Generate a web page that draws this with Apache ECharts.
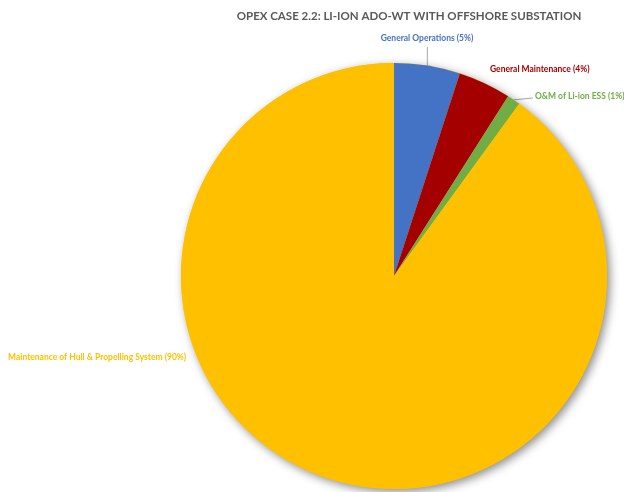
<!DOCTYPE html>
<html>
<head>
<meta charset="utf-8">
<script src="https://cdn.jsdelivr.net/npm/echarts@6/dist/echarts.min.js"></script>
<style>
  html, body { margin: 0; padding: 0; background: #ffffff; }
  #chart { width: 624px; height: 492px; }
</style>
</head>
<body>
<div id="chart"></div>
<script>
// OPEX breakdown, share of total (%)
const categories = [
  'General Operations',
  'General Maintenance',
  'O&M of Li-ion ESS',
  'Maintenance of Hull & Propelling System'
];
const shares = [5, 4, 1, 90];
const sliceColors = ['#4472C4', '#A50000', '#70AD47', '#FFC000'];
const titleText = 'OPEX CASE 2.2: LI-ION ADO-WT WITH OFFSHORE SUBSTATION';

// Where each label sits (anchor x, y, horizontal alignment) and whether a leader line is drawn
const labelSpots = [
  { x: 427, y: 38, align: 'center', line: 'up' },
  { x: 490, y: 69, align: 'left', line: null },
  { x: 535, y: 96, align: 'left', line: 'side' },
  { x: 8, y: 357, align: 'left', line: null }
];

const pieCenter = [394, 276];
const pieRadius = 213;
const chartFont = 'Lato, "Open Sans", sans-serif';

const chart = echarts.init(document.getElementById('chart'), null, { renderer: 'canvas' });

const data = categories.map((name, i) => ({
  name: name,
  value: shares[i],
  itemStyle: { color: sliceColors[i] },
  label: { color: sliceColors[i] },
  labelLine: { show: labelSpots[i].line !== null }
}));

chart.setOption({
  animation: false,
  backgroundColor: '#ffffff',
  title: {
    text: titleText,
    left: 404,
    top: 5,
    textAlign: 'center',
    textStyle: {
      fontFamily: chartFont,
      fontSize: 11.5,
      fontWeight: 'bold',
      color: '#595959'
    }
  },
  series: [
    {
      // soft drop shadow underneath the whole pie
      type: 'pie',
      silent: true,
      center: pieCenter,
      radius: pieRadius,
      label: { show: false },
      labelLine: { show: false },
      itemStyle: {
        color: '#FFC000',
        shadowBlur: 10,
        shadowOffsetX: 3,
        shadowOffsetY: 3,
        shadowColor: 'rgba(0,0,0,0.45)'
      },
      data: [{ name: '', value: 1 }]
    },
    {
      type: 'pie',
      center: pieCenter,
      radius: pieRadius,
      startAngle: 90,
      clockwise: true,
      percentPrecision: 0,
      avoidLabelOverlap: false,
      emphasis: { disabled: true },
      itemStyle: { borderWidth: 0 },
      label: {
        show: true,
        position: 'outside',
        formatter: '{b} ({d}%)',
        fontFamily: chartFont,
        fontSize: 8.5,
        fontWeight: 'bold'
      },
      labelLine: {
        show: true,
        length: 10,
        length2: 10,
        lineStyle: { color: '#A6A6A6', width: 1 }
      },
      labelLayout: function (params) {
        const spot = labelSpots[params.dataIndex];
        const out = {
          x: spot.x,
          y: spot.y,
          align: spot.align,
          verticalAlign: 'middle'
        };
        const pts = params.labelLinePoints;
        if (spot.line && pts && pts.length) {
          const p0 = pts[0];
          if (spot.line === 'up') {
            out.labelLinePoints = [[p0[0], p0[1]], [p0[0], spot.y + 9]];
          } else {
            out.labelLinePoints = [[p0[0], p0[1]], [spot.x - 2, spot.y + 2]];
          }
        }
        return out;
      },
      data: data
    }
  ]
});
</script>
</body>
</html>
